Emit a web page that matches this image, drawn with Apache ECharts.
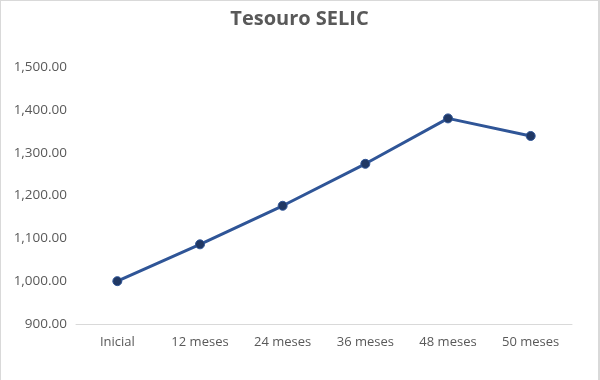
<!DOCTYPE html>
<html>
<head>
<meta charset="utf-8">
<script src="https://cdn.jsdelivr.net/npm/echarts@6/dist/echarts.min.js"></script>
<style>
html,body{margin:0;padding:0;background:#fff;}
#chart{width:600px;height:380px;box-sizing:border-box;border:1px solid #d9d9d9;border-bottom:none;border-right-width:2px;}
</style>
</head>
<body>
<div id="chart"></div>
<script>
const categories = ['Inicial', '12 meses', '24 meses', '36 meses', '48 meses', '50 meses'];
const values = [1000, 1086, 1176, 1274, 1380, 1339];
const yTicks = { min: 900, max: 1500, interval: 100 };

const chart = echarts.init(document.getElementById('chart'));
chart.setOption({
  animation: false,
  title: {
    text: 'Tesouro SELIC',
    left: 'center',
    top: 3,
    textStyle: { fontFamily: 'Open Sans', fontSize: 20, fontWeight: 'bold', color: '#595959' }
  },
  grid: { left: 75, right: 26, top: 66, bottom: 56 },
  xAxis: {
    type: 'category',
    data: categories,
    boundaryGap: true,
    axisLine: { lineStyle: { color: '#d9d9d9', width: 1 } },
    axisTick: { show: false },
    axisLabel: { color: '#595959', fontFamily: 'Open Sans', fontSize: 13, margin: 12 }
  },
  yAxis: {
    type: 'value',
    min: yTicks.min,
    max: yTicks.max,
    interval: yTicks.interval,
    splitLine: { show: false },
    axisLine: { show: false },
    axisTick: { show: false },
    axisLabel: {
      color: '#595959', fontFamily: 'Open Sans', fontSize: 13.5, margin: 9,
      formatter: v => v.toLocaleString('en-US', { minimumFractionDigits: 2, maximumFractionDigits: 2 })
    }
  },
  series: [{
    type: 'line',
    data: values,
    symbol: 'circle',
    symbolSize: 9,
    lineStyle: { color: '#2F5597', width: 3 },
    itemStyle: { color: '#203864', borderColor: '#2F5597', borderWidth: 1 }
  }]
});
</script>
</body>
</html>
